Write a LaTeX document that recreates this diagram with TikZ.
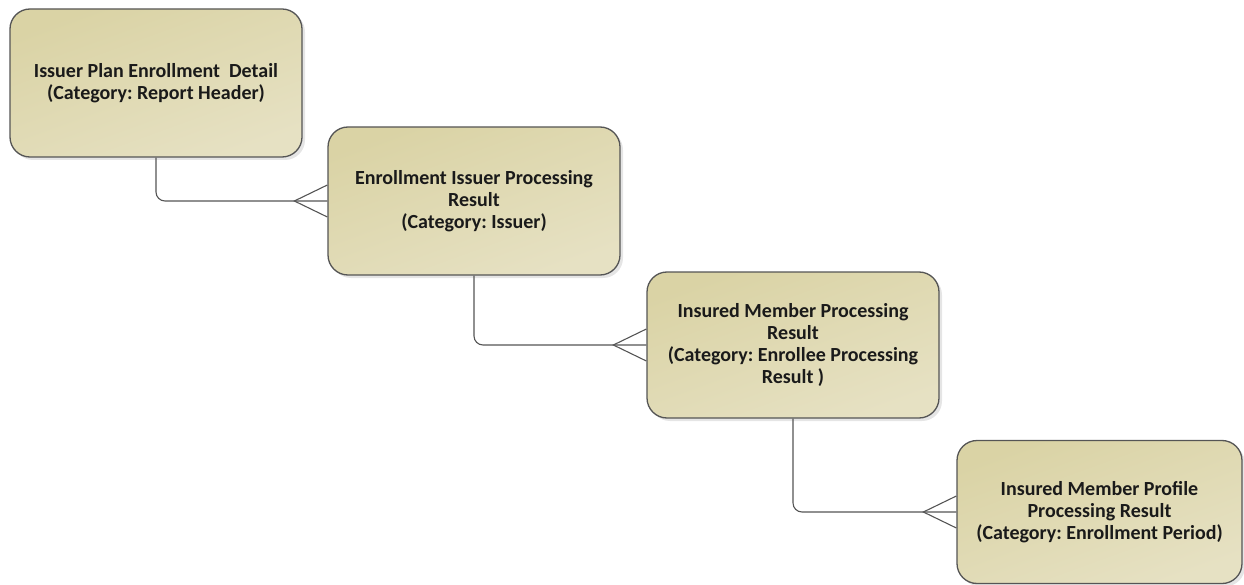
\documentclass[tikz,border=0pt]{standalone}
\usepackage{fontspec}
\setmainfont{Carlito}
\usetikzlibrary{calc,shadows}
\definecolor{boxtop}{HTML}{DAD3A5}
\definecolor{boxbot}{HTML}{E6E1C3}
\definecolor{edge}{HTML}{555555}
\definecolor{ink}{HTML}{1A1A1A}
\tikzset{
  entity/.style={rectangle, rounded corners=20pt, draw=edge, line width=1.3pt,
    top color=boxtop, bottom color=boxbot, shading angle=20,
    drop shadow={shadow xshift=3pt, shadow yshift=-3pt, fill=black!20, opacity=.5},
    align=center, font=\bfseries\fontsize{20}{21.8}\selectfont, text=ink},
  link/.style={draw=edge, line width=1.1pt, rounded corners=9pt},
  crow/.style={draw=edge, line width=1.1pt}
}
\begin{document}
\frenchspacing
\begin{tikzpicture}[x=1pt,y=-1pt]
\useasboundingbox (0,0) rectangle (1244,585);
\node[entity, minimum width=292pt, minimum height=148pt] (b1) at (156,83)
  {Issuer Plan Enrollment\ \ Detail\\(Category: Report Header)};
\node[entity, minimum width=292pt, minimum height=148pt] (b2) at (474,201)
  {Enrollment Issuer Processing\\Result\\(Category: Issuer)};
\node[entity, minimum width=292pt, minimum height=146pt] (b3) at (793,345)
  {Insured Member Processing\\Result\\(Category: Enrollee Processing\\Result )};
\node[entity, minimum width=285pt, minimum height=143pt] (b4) at (1099.5,512)
  {Insured Member Profile\\Processing Result\\(Category: Enrollment Period)};
% one-to-many links
\foreach \a/\b in {b1/b2,b2/b3,b3/b4}{
  \draw[link] (\a.south) |- (\b.west);
  \draw[crow] ($(\b.west)+(0,-16)$) -- ($(\b.west)+(-33,0)$) -- ($(\b.west)+(0,16)$);
}
\end{tikzpicture}
\end{document}
